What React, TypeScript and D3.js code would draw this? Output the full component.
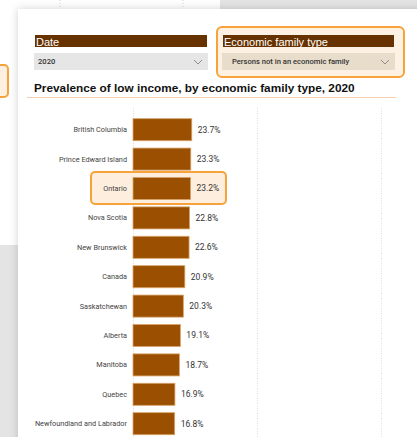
import React, { useEffect, useRef } from 'react';
import * as d3 from 'd3';

const categories = [
  "British Columbia",
  "Prince Edward Island",
  "Ontario",
  "Nova Scotia",
  "New Brunswick",
  "Canada",
  "Saskatchewan",
  "Alberta",
  "Manitoba",
  "Quebec",
  "Newfoundland and Labrador",
];
const values = [23.7, 23.3, 23.2, 22.8, 22.6, 20.9, 20.3, 19.1, 18.7, 16.9, 16.8];
const xTicks = [0, 50, 100];
const highlighted = "Ontario";

const title = "Prevalence of low income, by economic family type, 2020";
const dateLabel = "Date";
const dateValue = "2020";
const typeLabel = "Economic family type";
const typeValue = "Persons not in an economic family";

const width = 417;
const height = 437;

const App: React.FC = () => {
  const ref = useRef<SVGSVGElement | null>(null);

  useEffect(() => {
    if (!ref.current) return;
    const svg = d3.select(ref.current);
    svg.selectAll("*").remove();

    // background: the page behind the card
    svg.append("rect").attr("width", width).attr("height", height).attr("fill", "#e4e4e4");
    svg.append("rect").attr("x", 0).attr("y", 0).attr("width", 220).attr("height", 245).attr("fill", "#ffffff");
    svg.append("line").attr("x1", 60).attr("x2", 60).attr("y1", 0).attr("y2", 9)
      .attr("stroke", "#d8d8d8").attr("stroke-dasharray", "1,2");
    svg.append("line").attr("x1", 183).attr("x2", 183).attr("y1", 0).attr("y2", 9)
      .attr("stroke", "#d8d8d8").attr("stroke-dasharray", "1,2");
    // highlight peeking out from the card behind
    svg.append("rect").attr("x", -6).attr("y", 65).attr("width", 14).attr("height", 32).attr("rx", 4)
      .attr("fill", "#fdf0e0").attr("stroke", "#f7a23a").attr("stroke-width", 2);

    const defs = svg.append("defs");
    const f = defs.append("filter").attr("id", "shadow").attr("x", "-10%").attr("y", "-10%")
      .attr("width", "130%").attr("height", "130%");
    f.append("feDropShadow").attr("dx", 0).attr("dy", 0).attr("stdDeviation", 4)
      .attr("flood-color", "#000").attr("flood-opacity", 0.18);

    // main card
    svg.append("rect").attr("x", 18).attr("y", 9).attr("width", 420).attr("height", 450)
      .attr("fill", "#ffffff").attr("filter", "url(#shadow)");

    // slicers
    svg.append("rect").attr("x", 217).attr("y", 27).attr("width", 187).attr("height", 50).attr("rx", 5)
      .attr("fill", "#fdf1e3").attr("stroke", "#f7a23a").attr("stroke-width", 2);

    const slicer = (x: number, w: number, label: string, value: string, pad: number, dropFill: string) => {
      svg.append("rect").attr("x", x + 1).attr("y", 35).attr("width", w - 2).attr("height", 12).attr("fill", "#663200");
      svg.append("text").attr("x", x + 2).attr("y", 45.5).attr("fill", "#ffffff")
        .style("font-family", "Liberation Sans, Arial, sans-serif").style("font-size", "11px").text(label);
      svg.append("rect").attr("x", x).attr("y", 53).attr("width", w).attr("height", 17).attr("fill", dropFill);
      svg.append("text").attr("x", x + pad).attr("y", 64.3).attr("fill", "#333")
        .style("font-family", "Roboto, sans-serif").style("font-size", "7.6px").style("font-weight", 500).text(value);
      const cx = x + w - 10;
      svg.append("path").attr("d", `M${cx - 4},60 L${cx},64 L${cx + 4},60`)
        .attr("fill", "none").attr("stroke", "#777").attr("stroke-width", 0.8);
    };
    slicer(34, 174, dateLabel, dateValue, 4, "#e6e6e6");
    slicer(222, 173, typeLabel, typeValue, 10, "#e8dccb");

    // title
    svg.append("text").attr("x", 34).attr("y", 92).attr("fill", "#111")
      .style("font-family", "Liberation Sans, Arial, sans-serif").style("font-size", "11.8px")
      .style("font-weight", "bold").text(title);
    svg.append("line").attr("x1", 27).attr("x2", 396).attr("y1", 97.5).attr("y2", 97.5)
      .attr("stroke", "#f6cdb0").attr("stroke-width", 1);

    // chart
    const x = d3.scaleLinear().domain([0, 100]).range([133, 381]);
    const y = d3.scaleBand<string>().domain(categories).range([115, 438.4])
      .paddingInner(0.25).paddingOuter(0.125);

    const g = svg.append("g");
    g.selectAll("line.grid").data(xTicks).join("line").attr("class", "grid")
      .attr("x1", d => x(d) + 0.5).attr("x2", d => x(d) + 0.5)
      .attr("y1", 108).attr("y2", height)
      .attr("stroke", "#dcdcdc").attr("stroke-dasharray", "1,1.5");

    const hy = y(highlighted)!;
    g.append("rect").attr("x", 91).attr("y", hy - 5.5).attr("width", 135).attr("height", y.bandwidth() + 10)
      .attr("rx", 4).attr("fill", "#fdeedd").attr("stroke", "#f7a23a").attr("stroke-width", 2);

    const data = categories.map((c, i) => ({ c, v: values[i] }));
    g.selectAll("rect.bar").data(data).join("rect").attr("class", "bar")
      .attr("x", x(0)).attr("y", d => y(d.c)!)
      .attr("width", d => x(d.v) - x(0)).attr("height", y.bandwidth())
      .attr("fill", "#9a5000").attr("stroke", "#d9a36a").attr("stroke-width", 0.8);

    g.selectAll("text.cat").data(data).join("text").attr("class", "cat")
      .attr("x", 127).attr("y", d => y(d.c)! + y.bandwidth() / 2).attr("dy", "0.35em")
      .attr("text-anchor", "end").attr("fill", "#444")
      .style("font-family", "Roboto, sans-serif").style("font-size", "7.3px")
      .text(d => d.c);

    g.selectAll("text.val").data(data).join("text").attr("class", "val")
      .attr("x", d => x(d.v) + 6).attr("y", d => y(d.c)! + y.bandwidth() / 2).attr("dy", "0.35em")
      .attr("fill", "#333")
      .style("font-family", "Roboto, sans-serif").style("font-size", "8.5px")
      .text(d => `${d.v.toFixed(1)}%`);
  }, []);

  return (
    <svg ref={ref} width={width} height={height}
      style={{ position: 'absolute', left: 0, top: 0, display: 'block' }} />
  );
};

export default App;
